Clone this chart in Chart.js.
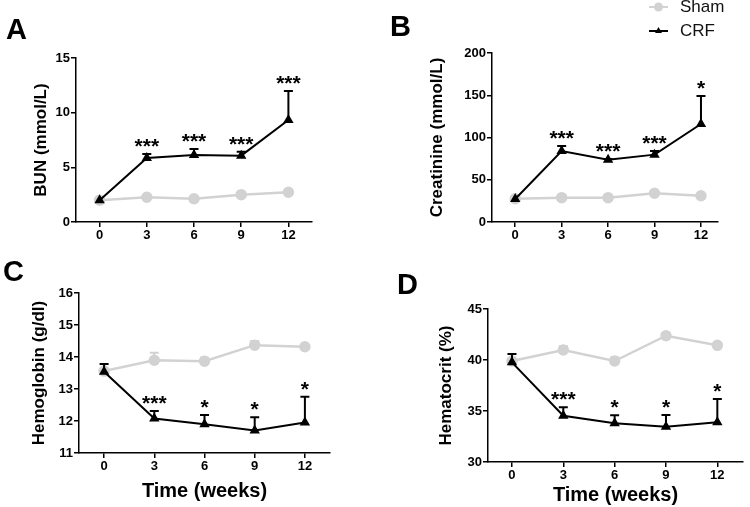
<!doctype html>
<html lang="en">
 <head>
  <meta charset="UTF-8">
  <title>CRF panels</title>
  <script src="https://cdn.jsdelivr.net/npm/chart.js"></script>
  <style>
        body {
            margin: 0;
            background: #fff;
            font-family: 'Liberation Sans', Arial, sans-serif;
        }

        #page {
            position: relative;
            width: 750px;
            height: 507px;
            overflow: hidden;
        }

        canvas {
            position: absolute;
        }

        .letter {
            position: absolute;
            font-weight: bold;
            font-size: 29px;
            line-height: 29px;
            color: #000;
        }
    </style>
 </head>
 <body>
  <div id="page">
   <canvas id="cA" width="375" height="245" style="left:0;top:0"></canvas>
   <canvas id="cB" width="375" height="245" style="left:375px;top:0"></canvas>
   <canvas id="cC" width="375" height="262" style="left:0;top:245px"></canvas>
   <canvas id="cD" width="375" height="262" style="left:375px;top:245px"></canvas>
   <div class="letter" style="left:6px;top:15px">A</div>
   <div class="letter" style="left:390px;top:12px">B</div>
   <div class="letter" style="left:3px;top:257px">C</div>
   <div class="letter" style="left:397px;top:270px">D</div>
  </div>
  <script>
        // weeks after surgery
        const weeks = [0, 3, 6, 9, 12];
        const seriesNames = ['Sham', 'CRF'];

        // A - BUN
        const bunSham = [2.0, 2.26, 2.13, 2.5, 2.72];
        const bunShamErr = [0, 0, 0, 0, 0];
        const bunCrf = [2.0, 5.86, 6.13, 6.07, 9.33];
        const bunCrfErr = [0, 0.36, 0.55, 0.36, 2.65];
        const bunSig = ['', '***', '***', '***', '***'];

        // B - creatinine
        const creSham = [27.6, 28.8, 28.8, 34, 31];
        const creShamErr = [0, 0, 0, 0, 0];
        const creCrf = [27.2, 84, 73.7, 79.7, 116];
        const creCrfErr = [0, 6, 1, 4.3, 33];
        const creSig = ['', '***', '***', '***', '*'];

        // C - hemoglobin
        const hgbSham = [13.56, 13.9, 13.87, 14.37, 14.32];
        const hgbShamErr = [0, 0.23, 0.11, 0.13, 0];
        const hgbCrf = [13.54, 12.08, 11.9, 11.7, 11.95];
        const hgbCrfErr = [0.24, 0.23, 0.29, 0.42, 0.81];
        const hgbSig = ['', '***', '*', '*', '*'];

        // D - hematocrit
        const hctSham = [39.9, 40.98, 39.9, 42.38, 41.44];
        const hctShamErr = [0, 0.39, 0.36, 0.3, 0];
        const hctCrf = [39.77, 34.54, 33.79, 33.46, 33.89];
        const hctCrfErr = [0.83, 0.82, 0.79, 1.14, 2.29];
        const hctSig = ['', '***', '*', '*', '*'];

        const FONT = "'Liberation Sans', Arial, sans-serif";
        const GREY = '#d2d2d2';

        // upward error bars + significance stars, drawn from the data
        const errorBars = {
            id: 'errorBars',
            afterDatasetDraw(chart, args) {
                const ds = chart.data.datasets[args.index];
                const y = chart.scales.y;
                const ctx = chart.ctx;
                ctx.save();
                ctx.strokeStyle = ds.borderColor;
                ctx.lineWidth = 2;
                args.meta.data.forEach((pt, i) => {
                    const e = ds.errors[i];
                    if (!e) return;
                    const top = y.getPixelForValue(ds.data[i].y + e);
                    ctx.beginPath();
                    ctx.moveTo(pt.x, pt.y);
                    ctx.lineTo(pt.x, top);
                    ctx.moveTo(pt.x - 4.5, top);
                    ctx.lineTo(pt.x + 4.5, top);
                    ctx.stroke();
                });
                if (ds.sig) {
                    ctx.fillStyle = '#000';
                    ctx.font = 'bold 21px ' + FONT;
                    ctx.textAlign = 'center';
                    ctx.textBaseline = 'alphabetic';
                    args.meta.data.forEach((pt, i) => {
                        if (!ds.sig[i]) return;
                        const top = y.getPixelForValue(ds.data[i].y + (ds.errors[i] || 0));
                        ctx.fillText(ds.sig[i], pt.x, top - 1);
                    });
                }
                ctx.restore();
            }
        };

        const legendBox = {
            id: 'legendBox',
            afterDraw(chart) {
                const ctx = chart.ctx;
                ctx.save();
                chart.data.datasets.forEach((ds, i) => {
                    const yy = 7 + i * 24;
                    ctx.strokeStyle = ds.borderColor;
                    ctx.lineWidth = 2;
                    ctx.beginPath();
                    ctx.moveTo(274, yy);
                    ctx.lineTo(293, yy);
                    ctx.stroke();
                    ctx.fillStyle = ds.borderColor;
                    Chart.helpers.drawPoint(ctx, { pointStyle: ds.pointStyle, radius: ds.pointRadius, borderWidth: 0, rotation: 0 }, 283.5, yy);
                    ctx.fillStyle = '#111';
                    ctx.font = '17px ' + FONT;
                    ctx.textAlign = 'left';
                    ctx.textBaseline = 'middle';
                    ctx.fillText(ds.label, 305, yy);
                });
                ctx.restore();
            }
        };

        function toPts(vals) {
            return vals.map((v, i) => ({ x: weeks[i], y: v }));
        }

        function makePanel(id, p) {
            const canvas = document.getElementById(id);
            const w = canvas.width, h = canvas.height;
            const axis = { color: '#000', width: 1.5 };
            const grid = { display: true, drawOnChartArea: false, drawTicks: true, tickLength: 5, color: '#000', lineWidth: 1.5 };
            new Chart(canvas.getContext('2d'), {
                type: 'line',
                data: {
                    datasets: [{
                        label: seriesNames[0],
                        data: toPts(p.sham),
                        errors: p.shamErr,
                        borderColor: GREY,
                        pointBackgroundColor: GREY,
                        pointBorderColor: GREY,
                        borderWidth: 2.5,
                        pointStyle: 'circle',
                        pointRadius: 4.5,
                        order: 1
                    }, {
                        label: seriesNames[1],
                        data: toPts(p.crf),
                        errors: p.crfErr,
                        sig: p.sig,
                        borderColor: '#000',
                        pointBackgroundColor: '#000',
                        pointBorderColor: '#000',
                        borderWidth: 2,
                        pointStyle: 'triangle',
                        pointRadius: 4,
                        order: 0
                    }]
                },
                options: {
                    responsive: false,
                    animation: false,
                    devicePixelRatio: 1,
                    layout: { padding: { left: 0, top: p.area.top, right: w - p.area.right, bottom: 0 } },
                    elements: { line: { tension: 0 }, point: { borderWidth: 1 } },
                    plugins: { legend: { display: false }, tooltip: { enabled: false } },
                    scales: {
                        x: {
                            type: 'linear',
                            min: p.xMin,
                            max: p.xMax,
                            border: axis,
                            grid: grid,
                            afterBuildTicks: s => { s.ticks = weeks.map(v => ({ value: v })); },
                            afterFit: s => { s.height = h - p.area.bottom; },
                            ticks: { color: '#000', padding: 1, font: { family: FONT, size: 13, weight: 'bold' } },
                            title: p.xTitle ? {
                                display: true, text: 'Time (weeks)', color: '#000',
                                font: { family: FONT, size: 20, weight: 'bold' },
                                padding: { top: 0, bottom: p.xTitlePad }
                            } : { display: false }
                        },
                        y: {
                            min: p.yMin,
                            max: p.yMax,
                            border: axis,
                            grid: grid,
                            afterFit: s => { s.width = p.area.left; },
                            ticks: { stepSize: p.yStep, color: '#000', padding: 1, font: { family: FONT, size: 13, weight: 'bold' } },
                            title: {
                                display: true, text: p.yTitle, color: '#000',
                                font: { family: FONT, size: 17, weight: 'bold' },
                                padding: { top: p.yTitlePad, bottom: 0 }
                            }
                        }
                    }
                },
                plugins: p.legend ? [errorBars, legendBox] : [errorBars]
            });
        }

        makePanel('cA', {
            sham: bunSham, shamErr: bunShamErr, crf: bunCrf, crfErr: bunCrfErr, sig: bunSig,
            yMin: 0, yMax: 15, yStep: 5, yTitle: 'BUN (mmol/L)', yTitlePad: 31,
            xMin: -1.5, xMax: 13.5,
            area: { left: 76, top: 58, right: 312, bottom: 222 }
        });
        makePanel('cB', {
            sham: creSham, shamErr: creShamErr, crf: creCrf, crfErr: creCrfErr, sig: creSig,
            yMin: 0, yMax: 200, yStep: 50, yTitle: 'Creatinine (mmol/L)', yTitlePad: 52,
            xMin: -1.5, xMax: 13.1, legend: true,
            area: { left: 117, top: 53, right: 343, bottom: 222 }
        });
        makePanel('cC', {
            sham: hgbSham, shamErr: hgbShamErr, crf: hgbCrf, crfErr: hgbCrfErr, sig: hgbSig,
            yMin: 11, yMax: 16, yStep: 1, yTitle: 'Hemoglobin (g/dl)', yTitlePad: 29,
            xMin: -1.5, xMax: 13.5, xTitle: true, xTitlePad: 4,
            area: { left: 79, top: 48, right: 330, bottom: 208 }
        });
        makePanel('cD', {
            sham: hctSham, shamErr: hctShamErr, crf: hctCrf, crfErr: hctCrfErr, sig: hctSig,
            yMin: 30, yMax: 45, yStep: 5, yTitle: 'Hematocrit (%)', yTitlePad: 61,
            xMin: -1.4, xMax: 13.5, xTitle: true, xTitlePad: 0,
            area: { left: 113, top: 64, right: 375, bottom: 217 }
        });
    </script>
 </body>
</html>
